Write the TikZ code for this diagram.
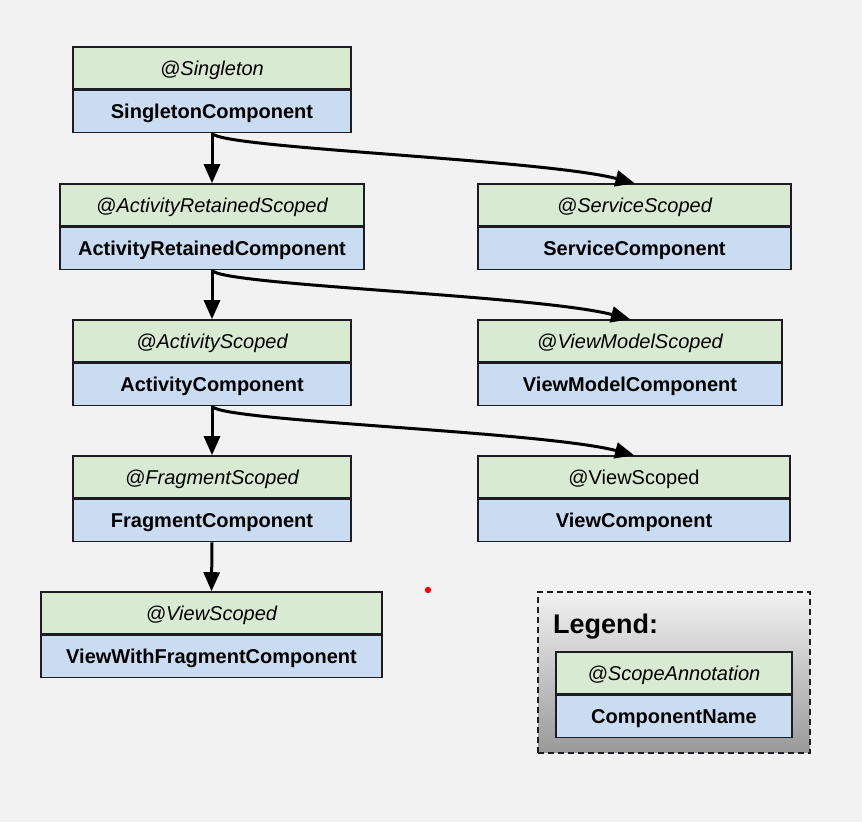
\documentclass[tikz,border=0pt]{standalone}
\usepackage{fontspec}
\setmainfont{Liberation Sans}
\usetikzlibrary{positioning,arrows.meta}

\definecolor{annGreen}{RGB}{217,234,211}
\definecolor{compBlue}{RGB}{202,220,242}
\definecolor{bgGray}{RGB}{242,242,242}
\definecolor{boxLine}{RGB}{28,28,34}

\begin{document}
\begin{tikzpicture}[x=1pt, y=1pt, >={Triangle[length=19pt,width=16pt]},
  ann/.style={draw=boxLine, line width=1.6pt, fill=annGreen, minimum height=42pt,
    inner sep=0pt, text height=14.5pt, text depth=0pt,
    font=\fontsize{20}{24}\selectfont\itshape},
  comp/.style={draw=boxLine, line width=1.6pt, fill=compBlue, minimum height=42pt,
    inner sep=0pt, text height=14.5pt, text depth=0pt,
    font=\fontsize{20}{24}\selectfont\bfseries},
  link/.style={->, line width=3pt}]

  % background and page size
  \fill[bgGray] (0,0) rectangle (862,822);
  \useasboundingbox (0,0) rectangle (862,822);

  % --- left column: scope chain ---
  \node[ann, minimum width=278pt] (singA) at (212,754) {@Singleton};
  \node[comp, minimum width=278pt, below=0pt of singA] (singC) {SingletonComponent};

  \node[ann, minimum width=304pt] (retA) at (212,617) {@ActivityRetainedScoped};
  \node[comp, minimum width=304pt, below=0pt of retA] (retC) {ActivityRetainedComponent};

  \node[ann, minimum width=278pt] (actA) at (212,481) {@ActivityScoped};
  \node[comp, minimum width=278pt, below=0pt of actA] (actC) {ActivityComponent};

  \node[ann, minimum width=278pt] (fragA) at (212,345) {@FragmentScoped};
  \node[comp, minimum width=278pt, below=0pt of fragA] (fragC) {FragmentComponent};

  \node[ann, minimum width=341pt] (vwfA) at (211.5,209) {@ViewScoped};
  \node[comp, minimum width=341pt, below=0pt of vwfA] (vwfC) {ViewWithFragmentComponent};

  % --- right column ---
  \node[ann, minimum width=313pt] (servA) at (634.5,617) {@ServiceScoped};
  \node[comp, minimum width=313pt, below=0pt of servA] (servC) {ServiceComponent};

  \node[ann, minimum width=304pt] (vmA) at (630,481) {@ViewModelScoped};
  \node[comp, minimum width=304pt, below=0pt of vmA] (vmC) {ViewModelComponent};

  \node[ann, minimum width=312pt, font=\fontsize{20}{24}\selectfont] (viewA) at (634,345) {@ViewScoped};
  \node[comp, minimum width=312pt, below=0pt of viewA] (viewC) {ViewComponent};

  % --- arrows ---
  \draw[link] (singC.south) -- (retA.north);
  \draw[link] (singC.south) .. controls +(10,-15) and +(-93,24) .. (servA.north);
  \draw[link] (retC.south) -- (actA.north);
  \draw[link] (retC.south) .. controls +(10,-15) and +(-93,24) .. (vmA.north);
  \draw[link] (actC.south) -- (fragA.north);
  \draw[link] (actC.south) .. controls +(10,-15) and +(-93,24) .. (viewA.north);
  \draw[link] (fragC.south) -- (vwfA.north);

  % stray dot
  \fill[red] (428,232) circle (3.2pt);

  % --- legend ---
  \node[draw=boxLine, line width=1.4pt, dash pattern=on 6pt off 4pt,
    top color=black!5, bottom color=black!40, minimum width=272pt,
    minimum height=161pt, inner sep=0pt] (legendFrame) at (674,149.5) {};
  \node[anchor=base west, inner sep=0pt, font=\fontsize{27}{32}\selectfont\bfseries]
    (legendTitle) at (553,188) {Legend:};
  \node[ann, minimum width=236pt] (legA) at (674,149) {@ScopeAnnotation};
  \node[comp, minimum width=236pt, below=0pt of legA] (legC) {ComponentName};
\end{tikzpicture}
\end{document}
